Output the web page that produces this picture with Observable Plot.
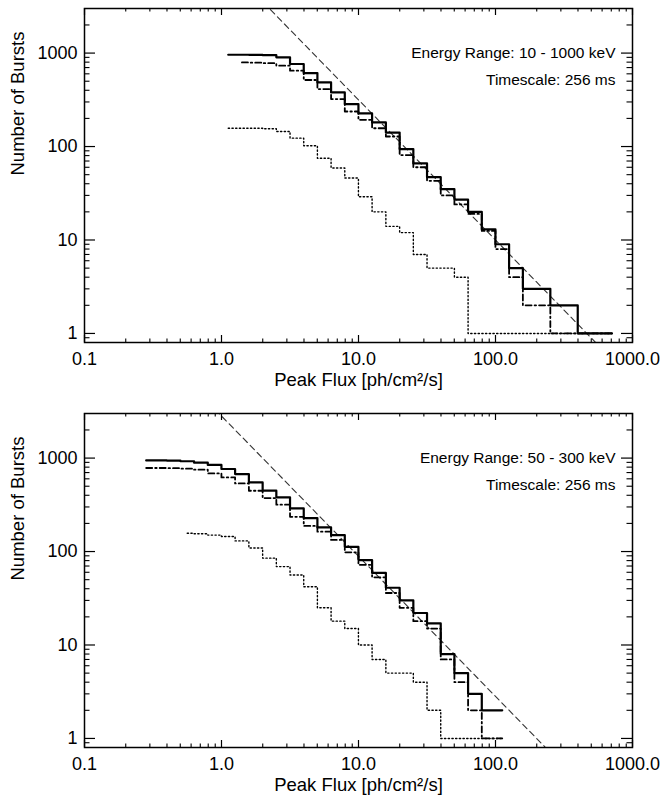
<!DOCTYPE html>
<html>
<head>
<meta charset="utf-8">
<script src="https://cdn.jsdelivr.net/npm/d3@7"></script>
<script src="https://cdn.jsdelivr.net/npm/@observablehq/plot@0.6"></script>
<style>
  html, body { margin: 0; padding: 0; background: white; }
  svg { display: block; }
</style>
</head>
<body>
<div id="chart"></div>
<script>
// ---------- DATA ----------
// Top panel: 10 - 1000 keV, bin centres (ph/cm^2/s)
const topFlux = [1.12, 1.41, 1.78, 2.24, 2.82, 3.55, 4.47, 5.62, 7.08, 8.91,
  11.2, 14.1, 17.8, 22.4, 28.2, 35.5, 44.7, 56.2, 70.8, 89.1,
  112, 141, 178, 224, 282, 355, 447, 562, 708];
const topSolid = [960, 960, 958, 950, 900, 764, 611, 485, 379, 285,
  226, 181, 141, 94, 66, 47, 35, 27, 20, 13,
  9, 5, 3, 3, 2, 2, 1, 1, 1];
const topDashDot = [null, 794, 790, 780, 733, 648, 515, 412, 322, 237,
  193, 157, 128, 81, 60, 43, 30, 24, 19, 12.5,
  8, 4, 2, 2, 1, 1, 1, 1, 1];
const topDotted = [157, 157, 157, 155, 145, 123, 102, 75, 59, 46,
  29, 20, 14, 12, 7, 5, 5, 4, 1, 1,
  1, 1, 1, 1, 1, 1, 1, 1, 1];
const topFitFlux = [1, 1000];
const topFitCount = [10000, 0.316];

// Bottom panel: 50 - 300 keV
const botFlux = [0.282, 0.355, 0.447, 0.562, 0.708, 0.891, 1.12, 1.41, 1.78, 2.24,
  2.82, 3.55, 4.47, 5.62, 7.08, 8.91, 11.2, 14.1, 17.8, 22.4,
  28.2, 35.5, 44.7, 56.2, 70.8, 89.1, 112];
const botSolid = [945, 945, 940, 925, 893, 844, 764, 675, 549, 448,
  380, 289, 228, 181, 150, 112, 81, 59, 41, 30,
  22, 17, 8, 5, 3, 2, 2];
const botDashDot = [783, 783, 780, 770, 751, 686, 621, 535, 447, 373,
  317, 235, 188, 163, 133, 98, 72, 53, 36, 25,
  18, 15, 7, 4, 2, 1, 1];
const botDotted = [null, null, null, 157, 155, 150, 145, 130, 109, 85,
  69, 56, 42, 25, 18, 15, 10, 7, 5, 5,
  4, 2, 1, 1, 1, 1, 1];
const botFitFlux = [0.5, 500];
const botFitCount = [7971, 0.252];

// Axis ticks and labels
const xTickValues = [0.1, 1, 10, 100, 1000];
const xTickLabels = ["0.1", "1.0", "10.0", "100.0", "1000.0"];
const yTickValues = [1, 10, 100, 1000];
const yTickLabels = ["1", "10", "100", "1000"];
const xMinor = [0.2,0.3,0.4,0.5,0.6,0.7,0.8,0.9, 2,3,4,5,6,7,8,9, 20,30,40,50,60,70,80,90, 200,300,400,500,600,700,800,900];
const yMinor = [0.9, 2,3,4,5,6,7,8,9, 20,30,40,50,60,70,80,90, 200,300,400,500,600,700,800,900, 2000];

const xTitle = "Peak Flux [ph/cm²/s]";
const yTitle = "Number of Bursts";
const timescale = "Timescale: 256 ms";

// ---------- DRAWING ----------
const W = 663, ML = 84, MR = 31;
const FONT = "'Liberation Sans', Arial, Helvetica, sans-serif";

function panel(cfg) {
  const frameW = W - ML - MR;
  const frameH = cfg.height - cfg.marginTop - cfg.marginBottom;
  const rows = (ys) => cfg.flux.map((f, i) => ({f, n: ys[i]})).filter(d => d.n != null);
  const fit = cfg.fitFlux.map((f, i) => ({f, n: cfg.fitCount[i]}));
  return Plot.plot({
    width: W,
    height: cfg.height,
    marginLeft: ML,
    marginRight: MR,
    marginTop: cfg.marginTop,
    marginBottom: cfg.marginBottom,
    style: {fontFamily: FONT, background: "white", color: "black", overflow: "visible"},
    x: {type: "log", domain: [0.1, 1000]},
    y: {type: "log", domain: [0.8, 3000]},
    marks: [
      Plot.line(fit, {x: "f", y: "n", stroke: "#333", strokeWidth: 1.1, strokeDasharray: "6,4", clip: true}),
      Plot.line(rows(cfg.dotted), {x: "f", y: "n", curve: "step", stroke: "black", strokeWidth: 1.4, strokeDasharray: "1.3,2.4"}),
      Plot.line(rows(cfg.dashdot), {x: "f", y: "n", curve: "step", stroke: "black", strokeWidth: 1.8, strokeDasharray: "6,3,1.5,3"}),
      Plot.line(rows(cfg.solid), {x: "f", y: "n", curve: "step", stroke: "black", strokeWidth: 2.2}),
      // inward ticks: bottom / top
      Plot.tickX(xTickValues, {x: d => d, insetTop: frameH - 7, stroke: "black", strokeWidth: 1.2}),
      Plot.tickX(xTickValues, {x: d => d, insetBottom: frameH - 7, stroke: "black", strokeWidth: 1.2}),
      Plot.tickX(xMinor, {x: d => d, insetTop: frameH - 3.5, stroke: "black", strokeWidth: 1.1}),
      Plot.tickX(xMinor, {x: d => d, insetBottom: frameH - 3.5, stroke: "black", strokeWidth: 1.1}),
      // inward ticks: left / right
      Plot.tickY(yTickValues, {y: d => d, insetRight: frameW - 11, stroke: "black", strokeWidth: 1.2}),
      Plot.tickY(yTickValues, {y: d => d, insetLeft: frameW - 11, stroke: "black", strokeWidth: 1.2}),
      Plot.tickY(yMinor, {y: d => d, insetRight: frameW - 5.5, stroke: "black", strokeWidth: 1.1}),
      Plot.tickY(yMinor, {y: d => d, insetLeft: frameW - 5.5, stroke: "black", strokeWidth: 1.1}),
      Plot.frame({stroke: "black", strokeWidth: 1.5}),
      Plot.axisX(xTickValues, {tickSize: 0, tickPadding: 10, fontSize: 18, label: null,
        tickFormat: d => xTickLabels[xTickValues.indexOf(d)]}),
      Plot.axisY(yTickValues, {tickSize: 0, tickPadding: 7, fontSize: 18, label: null,
        tickFormat: d => yTickLabels[yTickValues.indexOf(d)]}),
      Plot.text([xTitle], {frameAnchor: "bottom", dy: 37.5, lineAnchor: "middle", fontSize: 18.5, fill: "black"}),
      Plot.text([yTitle], {frameAnchor: "left", dx: -66, rotate: -90, lineAnchor: "middle", fontSize: 18.5, fill: "black"}),
      Plot.text([cfg.energy], {frameAnchor: "top-right", dx: -17, dy: 45, textAnchor: "end", lineAnchor: "middle", fontSize: 15.5, fill: "black"}),
      Plot.text([timescale], {frameAnchor: "top-right", dx: -17, dy: 72, textAnchor: "end", lineAnchor: "middle", fontSize: 15.5, fill: "black"})
    ]
  });
}

const chart = document.getElementById("chart");
chart.append(panel({
  flux: topFlux, solid: topSolid, dashdot: topDashDot, dotted: topDotted,
  fitFlux: topFitFlux, fitCount: topFitCount,
  energy: "Energy Range: 10 - 1000 keV",
  height: 406, marginTop: 8, marginBottom: 64
}));
chart.append(panel({
  flux: botFlux, solid: botSolid, dashdot: botDashDot, dotted: botDotted,
  fitFlux: botFitFlux, fitCount: botFitCount,
  energy: "Energy Range: 50 - 300 keV",
  height: 389, marginTop: 7, marginBottom: 48
}));
</script>
</body>
</html>
